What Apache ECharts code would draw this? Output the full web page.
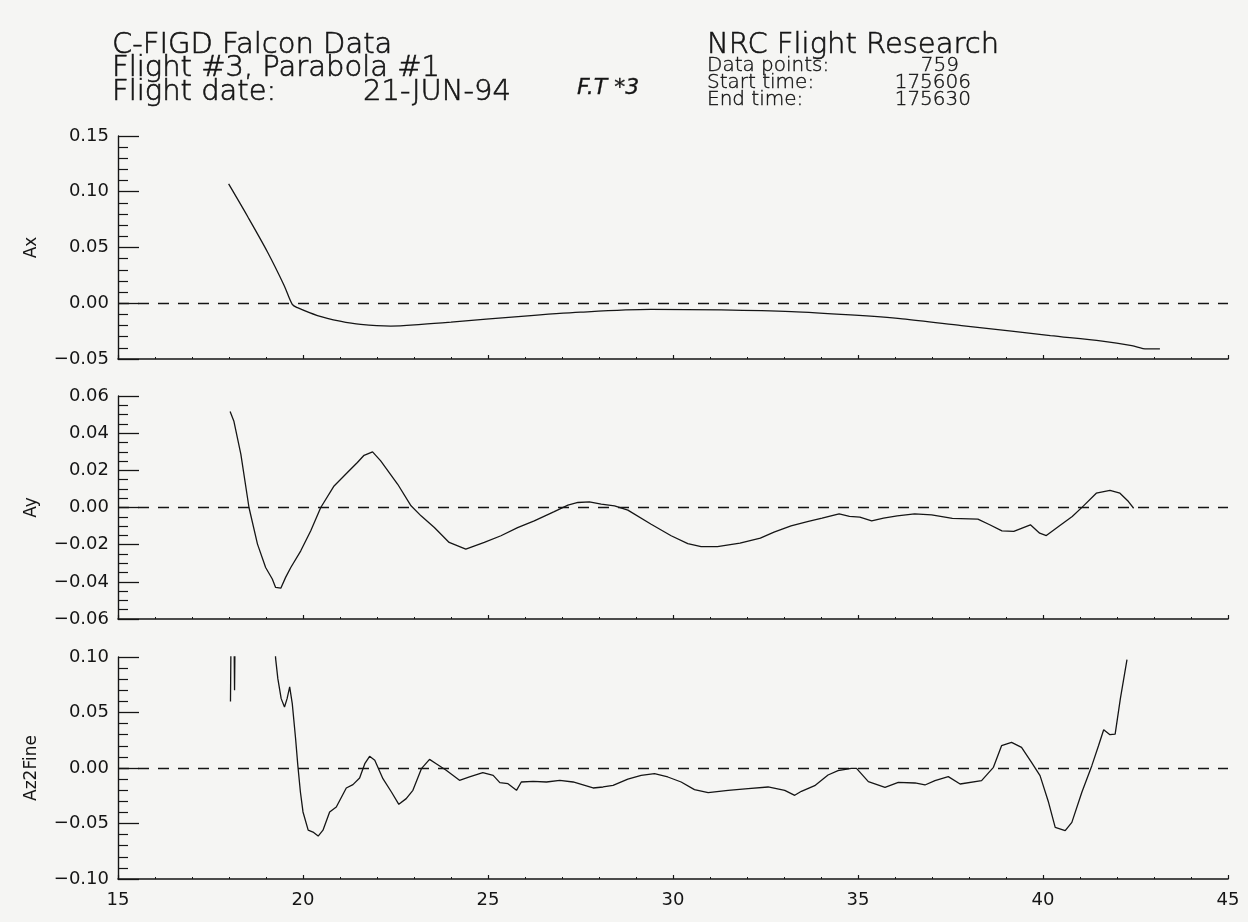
<!DOCTYPE html>
<html>
<head>
<meta charset="utf-8">
<script src="https://cdn.jsdelivr.net/npm/echarts@6/dist/echarts.min.js"></script>
<style>
html,body{margin:0;padding:0;background:#f5f5f3;}
#main{width:1248px;height:922px;}
</style>
</head>
<body>
<div id="main"></div>
<script>
// ---- data (time in s, accelerations in g) ----
const xTicks = [15, 20, 25, 30, 35, 40, 45];

const axT = [17.99, 18.5, 19.04, 19.49, 19.71, 19.85, 20.39, 21.0, 21.56, 22.37, 23.2, 24.0, 25.9, 27.5, 29.4, 31.3, 33.2, 34.8, 36.2, 37.8, 39.15, 40.2, 41.6, 42.4, 42.8, 43.16];
const axV = [0.107, 0.078, 0.046, 0.016, -0.001, -0.004, -0.011, -0.016, -0.019, -0.0205, -0.019, -0.017, -0.0117, -0.008, -0.0055, -0.006, -0.0075, -0.0105, -0.014, -0.020, -0.025, -0.029, -0.034, -0.038, -0.041, -0.041];

const ayT = [18.03, 18.13, 18.32, 18.54, 18.77, 18.99, 19.17, 19.26, 19.40, 19.53, 19.67, 19.94, 20.21, 20.48, 20.84, 21.2, 21.47, 21.65, 21.88, 22.1, 22.56, 22.92, 23.19, 23.55, 23.95, 24.40, 24.90, 25.35, 25.80, 26.25, 26.79, 27.16, 27.43, 27.74, 28.06, 28.42, 28.78, 29.41, 29.95, 30.4, 30.76, 31.2, 31.81, 32.36, 32.73, 33.19, 33.66, 34.03, 34.49, 34.77, 35.05, 35.37, 35.69, 36.06, 36.53, 36.99, 37.55, 38.24, 38.56, 38.89, 39.21, 39.66, 39.91, 40.09, 40.42, 40.79, 41.06, 41.44, 41.81, 42.08, 42.31, 42.45];
const ayV = [0.0516, 0.0466, 0.0287, 0, -0.0197, -0.0323, -0.0385, -0.043, -0.0434, -0.0376, -0.0323, -0.0233, -0.0125, 0, 0.0116, 0.0188, 0.0242, 0.0281, 0.0299, 0.0251, 0.0125, 0.0009, -0.0045, -0.0108, -0.0188, -0.0224, -0.0188, -0.0152, -0.0108, -0.0072, -0.0022, 0.0013, 0.0027, 0.003, 0.0018, 0.0009, -0.0014, -0.009, -0.0152, -0.0194, -0.0211, -0.021, -0.0192, -0.0165, -0.0133, -0.0099, -0.0075, -0.0057, -0.0034, -0.0048, -0.0052, -0.0072, -0.0057, -0.0045, -0.0034, -0.004, -0.0059, -0.0063, -0.0093, -0.0126, -0.0129, -0.0093, -0.0138, -0.0151, -0.0102, -0.0048, 0.0002, 0.0077, 0.0092, 0.0077, 0.0032, -0.0004];

const azT = [18.04, 18.06, 18.13, 18.15, 18.17, 19.2, 19.26, 19.32, 19.41, 19.50, 19.57, 19.64, 19.71, 19.80, 19.86, 19.93, 20.0, 20.14, 20.27, 20.41, 20.54, 20.72, 20.9, 21.17, 21.35, 21.53, 21.67, 21.80, 21.94, 22.16, 22.39, 22.59, 22.79, 22.97, 23.2, 23.42, 23.6, 23.87, 24.23, 24.5, 24.86, 25.14, 25.32, 25.54, 25.77, 25.9, 26.22, 26.58, 26.94, 27.3, 27.66, 27.84, 28.11, 28.38, 28.78, 29.14, 29.5, 29.86, 30.22, 30.58, 30.95, 31.49, 32.03, 32.57, 33.02, 33.29, 33.47, 33.83, 34.19, 34.46, 34.82, 34.96, 35.28, 35.73, 36.09, 36.54, 36.81, 37.08, 37.44, 37.76, 38.34, 38.66, 38.88, 39.15, 39.42, 39.69, 39.92, 40.15, 40.33, 40.6, 40.78, 41.05, 41.32, 41.50, 41.64, 41.81, 41.95, 42.09, 42.27];
const azV = [0.06, 0.14, 0.14, 0.07, 0.14, 0.14, 0.0985, 0.0805, 0.0625, 0.055, 0.0625, 0.073, 0.058, 0.0264, 0.0024, -0.0216, -0.0396, -0.056, -0.0577, -0.0613, -0.056, -0.0396, -0.0351, -0.018, -0.015, -0.009, 0.0039, 0.0105, 0.0069, -0.0096, -0.0216, -0.0327, -0.0276, -0.0201, -0.0006, 0.0078, 0.0039, -0.0021, -0.0111, -0.0081, -0.0042, -0.0066, -0.0132, -0.0141, -0.0201, -0.0126, -0.012, -0.0126, -0.0111, -0.0126, -0.0162, -0.018, -0.0171, -0.0156, -0.0100, -0.0066, -0.0051, -0.0081, -0.0126, -0.0195, -0.0222, -0.0201, -0.0186, -0.0171, -0.0201, -0.0246, -0.0210, -0.0159, -0.0063, -0.0024, -0.0003, -0.0003, -0.0123, -0.0174, -0.0129, -0.0135, -0.0153, -0.0114, -0.0078, -0.0144, -0.0114, 0.0006, 0.0201, 0.0231, 0.0186, 0.0051, -0.0069, -0.0309, -0.0535, -0.0565, -0.049, -0.0219, 0.0021, 0.0201, 0.0345, 0.03, 0.0306, 0.0622, 0.0976];

const panelNames = ['Ax', 'Ay', 'Az2Fine'];
const yMin = [-0.05, -0.06, -0.10];
const yMax = [0.15, 0.06, 0.10];
const yStep = [0.05, 0.02, 0.05];
const yMinorSplit = [5, 4, 5];

// ---- chart ----
const FONT = '"DejaVu Sans", "Liberation Sans", sans-serif';
const INK = '#151515';
const zip = (t, v) => t.map((x, i) => [x, v[i]]);
const seriesData = [zip(axT, axV), zip(ayT, ayV), zip(azT, azV)];

const grids = [
  {left: 118, top: 136, width: 1110, height: 223},
  {left: 118, top: 396, width: 1110, height: 223},
  {left: 118, top: 657, width: 1110, height: 222}
];

const xAxes = grids.map((g, i) => ({
  type: 'value', gridIndex: i, min: xTicks[0], max: xTicks[xTicks.length - 1], interval: 5,
  axisLine: {show: true, onZero: false, lineStyle: {color: INK, width: 1.6}},
  axisTick: {show: true, inside: true, length: 4, lineStyle: {color: INK, width: 1.2}},
  minorTick: {show: true, splitNumber: 5, length: 2, lineStyle: {color: INK, width: 1}},
  splitLine: {show: false},
  axisLabel: {show: i === 2, color: INK, fontSize: 18, fontFamily: FONT, margin: 12}
}));

const yAxes = grids.map((g, i) => ({
  type: 'value', gridIndex: i, min: yMin[i], max: yMax[i], interval: yStep[i],
  name: panelNames[i], nameLocation: 'middle', nameGap: 78, nameRotate: 90,
  nameTextStyle: {color: INK, fontSize: 17, fontFamily: FONT},
  axisLine: {show: true, lineStyle: {color: INK, width: 1.4}},
  axisTick: {show: true, inside: true, length: 21, lineStyle: {color: INK, width: 1.3}},
  minorTick: {show: true, splitNumber: yMinorSplit[i], length: 10, lineStyle: {color: INK, width: 1.2}},
  splitLine: {show: false},
  axisLabel: {color: INK, fontSize: 18, fontFamily: FONT, margin: 9,
    formatter: v => {
      const s = Math.abs(v).toFixed(2);
      return (v < -1e-9 ? '\u2212' : '') + s;
    }}
}));

const series = seriesData.map((d, i) => ({
  type: 'line', xAxisIndex: i, yAxisIndex: i, data: d,
  showSymbol: false, clip: true, smooth: i === 0 ? 0.3 : false,
  lineStyle: {color: INK, width: 1.3},
  animation: false,
  markLine: {
    silent: true, symbol: 'none', animation: false,
    label: {show: false},
    lineStyle: {color: INK, width: 1.3, type: [11, 9]},
    data: [{yAxis: 0}]
  }
}));

const txt = (x, y, text, size, extra) => ({
  type: 'text', x: x, y: y,
  style: Object.assign({
    text: text, font: '200 ' + size + 'px ' + FONT, fill: INK,
    stroke: INK, lineWidth: 0.6, verticalAlign: 'middle'
  }, extra || {})
});

const graphic = [
  txt(112, 45, 'C-FIGD Falcon Data', 29),
  txt(112, 68, 'Flight #3, Parabola #1', 29),
  txt(112, 92, 'Flight date:', 29),
  txt(437, 92, '21-JUN-94', 29, {align: 'center'}),
  txt(577, 88, 'F.T *3', 22, {font: 'italic 200 22px ' + FONT, lineWidth: 0.3}),
  txt(707, 45, 'NRC Flight Research', 29),
  txt(707, 66, 'Data points:', 20, {lineWidth: 0.4}),
  txt(707, 83, 'Start time:', 20, {lineWidth: 0.4}),
  txt(707, 100, 'End time:', 20, {lineWidth: 0.4}),
  txt(959, 66, '759', 20, {align: 'right', lineWidth: 0.4}),
  txt(971, 83, '175606', 20, {align: 'right', lineWidth: 0.4}),
  txt(971, 100, '175630', 20, {align: 'right', lineWidth: 0.4})
];

const chart = echarts.init(document.getElementById('main'), null, {renderer: 'canvas'});
chart.setOption({
  backgroundColor: '#f5f5f3',
  animation: false,
  grid: grids,
  xAxis: xAxes,
  yAxis: yAxes,
  series: series,
  graphic: graphic
});
</script>
</body>
</html>
